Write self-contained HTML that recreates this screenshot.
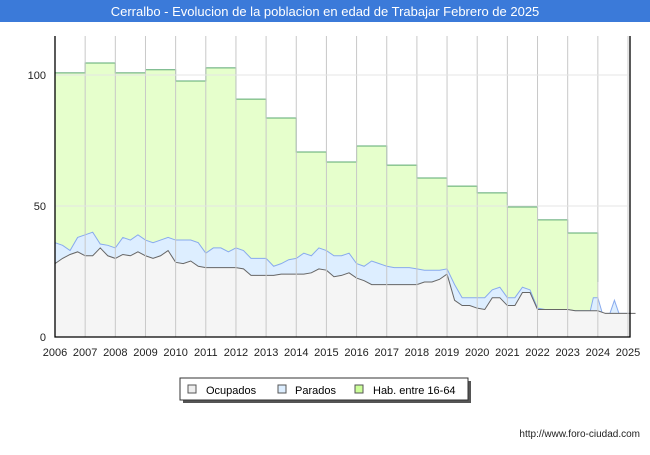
<!DOCTYPE html>
<html><head><meta charset="utf-8"><style>
body{margin:0;width:650px;height:450px;background:#fff;font-family:"Liberation Sans","DejaVu Sans",sans-serif;overflow:hidden}
</style></head><body>
<svg width="650" height="450" xmlns="http://www.w3.org/2000/svg">
<rect x="0" y="0" width="650" height="22" fill="#3b7ad9"/>
<text x="325" y="16" text-anchor="middle" fill="#fff" font-size="13">Cerralbo - Evolucion de la poblacion en edad de Trabajar Febrero de 2025</text>
<g id="plot"></g>
<g>
<rect x="183" y="381" width="288" height="22" fill="#555"/>
<rect x="180" y="378" width="288" height="22" fill="#fff" stroke="#333"/>
<g><rect x="188" y="385" width="8" height="8" fill="#eee" stroke="#555"/><text x="206" y="394" font-size="11">Ocupados</text></g>
<g><rect x="278" y="385" width="8" height="8" fill="#ddeeff" stroke="#555"/><text x="295" y="394" font-size="11">Parados</text></g>
<g><rect x="355" y="385" width="8" height="8" fill="#ccff99" stroke="#555"/><text x="373" y="394" font-size="11">Hab. entre 16-64</text></g>
</g>
<text x="640" y="437" text-anchor="end" font-size="10" fill="#222">http://www.foro-ciudad.com</text>
</svg>
<script>
const years=[2006,2007,2008,2009,2010,2011,2012,2013,2014,2015,2016,2017,2018,2019,2020,2021,2022,2023,2024,2025];
const habValues=[100.8,104.6,100.8,102,97.7,102.7,90.8,83.6,70.6,66.8,72.9,65.6,60.7,57.6,55,49.6,44.7,39.7];
const habEndValue=21;
const ocuDates=[];const ocuValues=[28,30,31.5,32.5,31,31,34,31,30,31.5,31,32.5,31,30,31,33,28.5,28,29,27,26.5,26.5,26.5,26.5,26.5,26,23.5,23.5,23.5,23.5,24,24,24,24,24.5,26,25.5,23,23.5,24.5,22.5,21.5,20,20,20,20,20,20,20,21,21,22,24,14,12,12,11,10.5,15,15,12,12,17,17,10.5,10.5,10.5,10.5,10.5,10,10,10,10,9,9,9,9,9];
const parValues=[36,35,33,38,39,40,35.5,35,34,38,37,39,37,36,37,38,37,37,37,36,32,34,34,32.5,34,33,30,30,30,27,28,29.5,30,32,31,34,33,31,31,32,28,27,29,28,27,26.5,26.5,26.5,26,25.5,25.5,25.5,26,20,15,15,15,15,18,19,15,15,19,18,11,10.5,10.5,10.5,10.5,10,10,10,10,9,9,9,9,9];
for(let i=0;i<ocuValues.length;i++)ocuDates.push(2006+i*0.25);
const parSpikeDates=[2023.75,2023.85,2024.0,2024.15,2024.4,2024.55,2024.7];
const parSpikeValues=[10,15,15,9,9,14,9];
const yTicks=[0,50,100];

const X0=55,X1=628,Y0=337,Y100=75;
const xs=t=>X0+(t-2006)*(X1-X0)/19;
const ys=v=>Y0-v*(Y0-Y100)/100;
const NS="http://www.w3.org/2000/svg";
const plot=document.getElementById('plot');
function mk(tag,attrs){const e=document.createElementNS(NS,tag);for(const k in attrs)e.setAttribute(k,attrs[k]);plot.appendChild(e);return e;}

const bg=mk('rect',{x:X0,y:36,width:X1-X0+2,height:Y0-36,fill:'#fff'});



let hp=`M${xs(2006)},${ys(0)}`;
habValues.forEach((v,i)=>{hp+=` L${xs(years[i])},${ys(v)} L${xs(years[i+1])},${ys(v)}`;});
hp+=` L${xs(2024)},${ys(habEndValue)}`;
const habFill=mk('path',{d:hp+` L${xs(2024)},${ys(0)} Z`,fill:'#e6ffcc'});


const habLine=mk('path',{d:hp.replace(/^M[^L]*L/,'M'),fill:'none',stroke:'#5aa870','stroke-width':1});



const END=2025.07;
const pd=[],pv=[];
ocuDates.forEach((d,i)=>{if(d<2023.75){pd.push(d);pv.push(parValues[i]);}});
parSpikeDates.forEach((d,i)=>{pd.push(d);pv.push(parSpikeValues[i]);});
pd.push(END);pv.push(9);
const od=ocuDates.concat([END]),ov=ocuValues.concat([9]);
function line(d,v){return d.map((t,i)=>(i?'L':'M')+xs(t)+','+ys(v[i])).join(' ');}
const pl=line(pd,pv);
const parFill=mk('path',{d:pl+` L${xs(END)},${ys(0)} L${xs(2006)},${ys(0)} Z`,fill:'#ddeeff'});


const parLine=mk('path',{d:pl,fill:'none',stroke:'#88aaee','stroke-width':1});


const ol=line(od,ov);
const ocuFill=mk('path',{d:ol+` L${xs(END)},${ys(0)} L${xs(2006)},${ys(0)} Z`,fill:'#f5f5f5'});


const ocuLine=mk('path',{d:ol,fill:'none',stroke:'#666','stroke-width':1});



years.forEach(y=>{
 const g=mk('line',{x1:xs(y),x2:xs(y),y1:36,y2:Y0,stroke:'#c8c8c8'});
 
 
 const t=mk('text',{x:xs(y),y:356,'text-anchor':'middle','font-size':11,fill:'#222'});
 t.textContent=y;
 
 
});
yTicks.forEach(v=>{
 const g=mk('line',{x1:X0,x2:X1+2,y1:ys(v),y2:ys(v),stroke:'#e4e4e4'});
 
 
 const t=mk('text',{x:46,y:ys(v)+4,'text-anchor':'end','font-size':11,fill:'#222'});
 t.textContent=v;
 
 
});
const ax=mk('path',{d:`M${X0},36 L${X0},${Y0} L${X1+2},${Y0} L${X1+2},36`,fill:'none',stroke:'#000','stroke-width':1.3});


</script>
</body></html>
